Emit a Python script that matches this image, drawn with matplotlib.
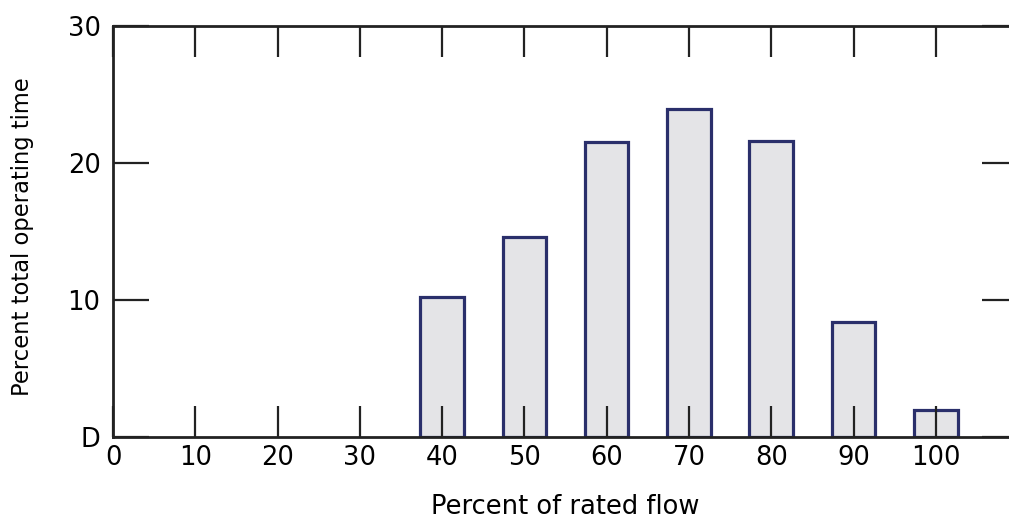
import matplotlib
matplotlib.use("Agg")
import matplotlib.pyplot as plt

flow = [40, 50, 60, 70, 80, 90, 100]
pct_time = [10.2, 14.6, 21.5, 23.9, 21.6, 8.4, 2.0]
xticks = [0, 10, 20, 30, 40, 50, 60, 70, 80, 90, 100]
yticks = [0, 10, 20, 30]
ytick_labels = ["D", "10", "20", "30"]

fig = plt.figure(figsize=(10.09, 5.18), dpi=100)
ax = fig.add_axes([0.112, 0.1564, 0.897, 0.7936])
ax.set_axisbelow(False)

ax.bar(flow, pct_time, width=5.3, color="#e4e4e7", edgecolor="#2a2f6b", linewidth=2.3, zorder=2)

ax.set_xlim(0, 110)
ax.set_ylim(0, 30)
ax.set_xticks(xticks)
ax.set_yticks(yticks)
ax.set_yticklabels(ytick_labels)

ax.tick_params(axis="x", direction="in", length=22, width=1.6, top=True, bottom=True,
               labelsize=18.5, pad=6, color="#222222")
ax.tick_params(axis="y", direction="in", length=26, width=1.6, left=True, right=True,
               labelsize=18.5, pad=9, color="#222222")

for s in ax.spines.values():
    s.set_linewidth(2)
    s.set_color("#222222")
    s.set_zorder(3)
ax.spines["right"].set_visible(False)

ax.set_xlabel("Percent of rated flow", fontsize=18.5, labelpad=16)
ax.set_ylabel("Percent total operating time", fontsize=16.3)
ax.yaxis.set_label_coords(-0.087, 0.487)

fig.savefig("out.png", dpi=100)
